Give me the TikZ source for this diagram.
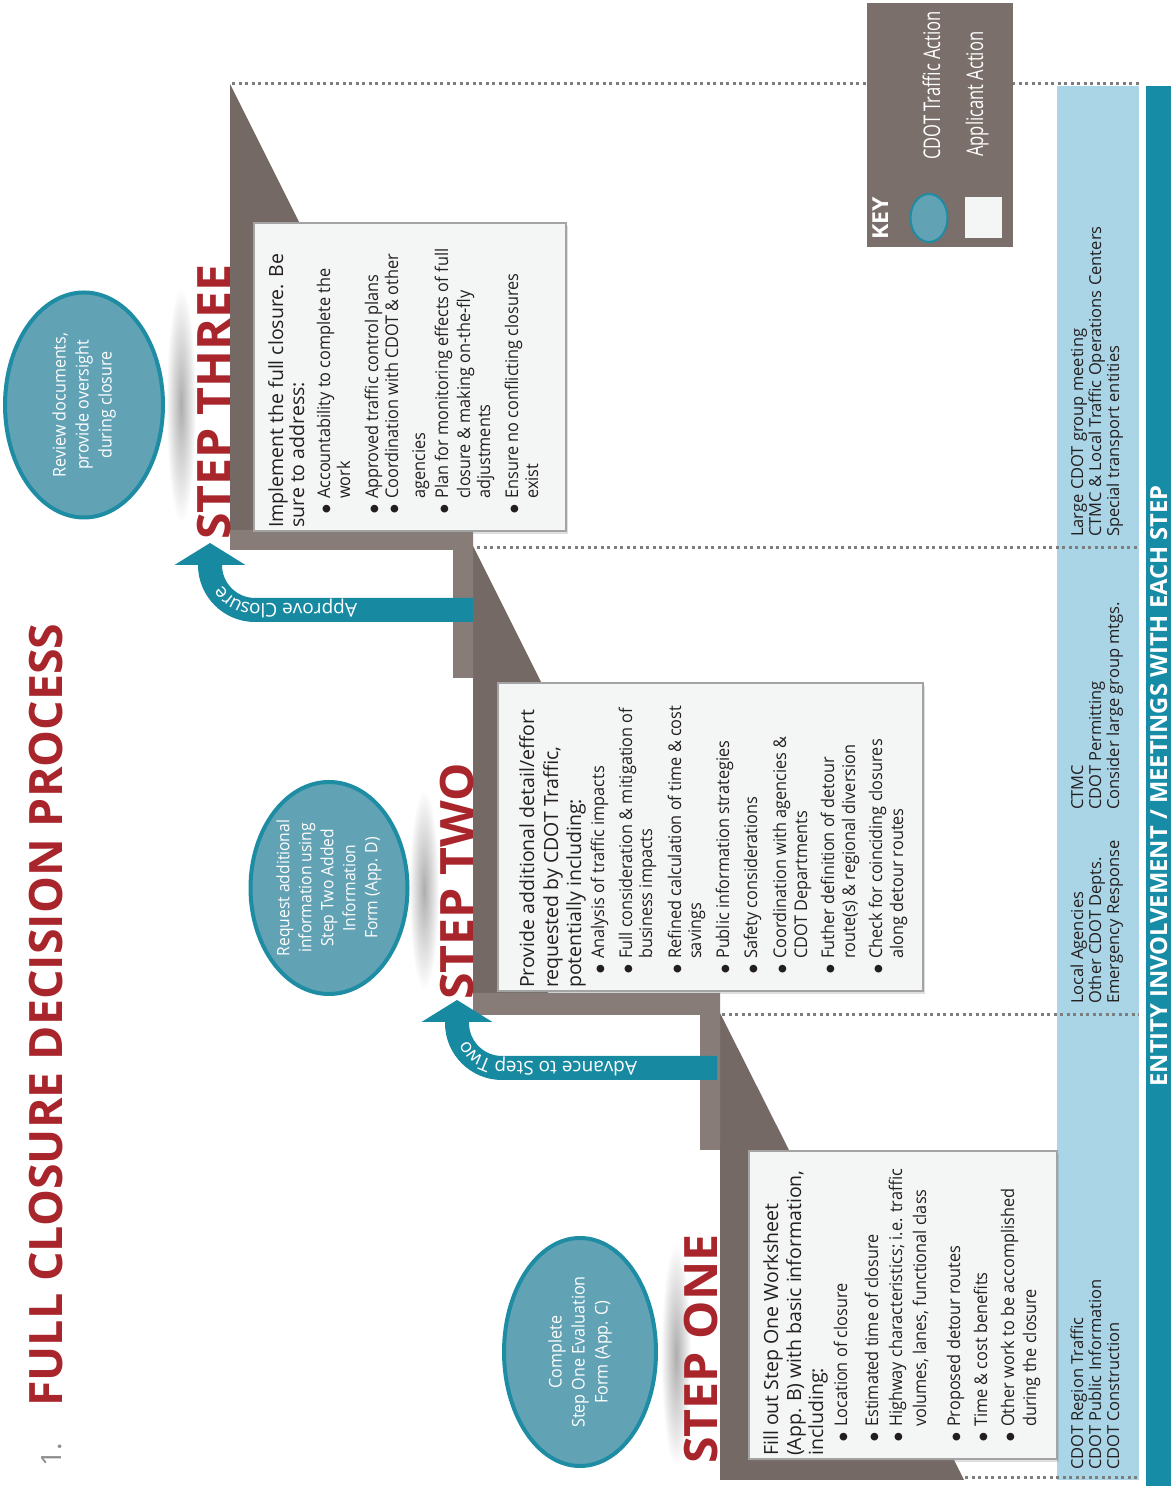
\documentclass[tikz,border=0pt]{standalone}
\usepackage{graphicx}
\usepackage{fontspec}
\setmainfont{Open Sans}
\newfontfamily\elf{Open Sans}[FakeStretch=0.92]
\newfontfamily\keyf{Open Sans}[FakeStretch=0.72]
\newfontfamily\stepf{Open Sans}[FakeStretch=1.05]
\newfontfamily\titf{Open Sans}[FakeStretch=1.01]
\newfontfamily\bulf{Open Sans}[FakeStretch=0.93]
\newfontfamily\hdf{Open Sans}
\newfontfamily\dejavu{DejaVu Sans}
\usetikzlibrary{shapes.geometric,arrows.meta,decorations.text,shadows}

\definecolor{redt}{HTML}{A8252B}
\definecolor{numgray}{HTML}{8C8C8C}
\definecolor{stair}{HTML}{877C78}
\definecolor{stairdk}{HTML}{746964}
\definecolor{elfill}{HTML}{62A2B5}
\definecolor{elbord}{HTML}{1E8CA3}
\definecolor{arrteal}{HTML}{178AA2}
\definecolor{ltblue}{HTML}{A9D5E6}
\definecolor{barteal}{HTML}{168CA6}
\definecolor{keybg}{HTML}{7A6F6B}
\definecolor{boxfill}{HTML}{F4F5F5}
\definecolor{boxline}{HTML}{A3A3A3}
\definecolor{dotc}{HTML}{7D7D7D}
\definecolor{txt}{HTML}{231F20}

\newcommand\hd{\hdf\fontsize{19.5}{22}\selectfont}
\newcommand\bul{\makebox[15pt][l]{\raisebox{1pt}{\dejavu\fontsize{10}{10}\selectfont ●}}}
\newcommand\arrf{\fontsize{19}{19}\selectfont}

\tikzset{
  boxst/.style={draw=boxline, line width=1.5pt, fill=boxfill, inner sep=0pt, anchor=north west,
    minimum width=308pt, drop shadow={shadow xshift=2pt, shadow yshift=-3pt, opacity=0.25}},
  btx/.style={anchor=base west, inner sep=0pt, text=txt, font=\bulf\fontsize{17.5}{20}\selectfont},
  ell/.style={ellipse, draw=elbord, line width=4pt, fill=elfill, text=white, align=center,
    inner sep=0pt, font=\elf\fontsize{17.5}{23}\selectfont},
  steplbl/.style={anchor=base west, inner sep=0pt, text=redt, font=\stepf\bfseries\fontsize{46}{46}\selectfont},
  dotl/.style={draw=dotc, line width=3pt, dash pattern=on 3pt off 3.5pt},
  bigarrow/.style={draw=arrteal, line width=24pt, -{Triangle[width=70pt,length=22pt]}},
  coltx/.style={anchor=base west, inner sep=0pt, text=txt, font=\fontsize{16.5}{18}\selectfont},
  shad/.style={inner color=black!32, outer color=white},
  keytx/.style={anchor=base west, inner sep=0pt, text=white, font=\keyf\fontsize{23}{23}\selectfont},
}

\begin{document}
\begin{tikzpicture}[x=1pt,y=1pt]
\useasboundingbox (0,0) rectangle (1171,1486);
\fill[white] (0,0) rectangle (1171,1486);
\begin{scope}[rotate=90, transform shape]
% ---- soft shadows under the ellipses
\shade[shad] (131,-676) ellipse [x radius=112, y radius=15];
\shade[shad] (596,-424) ellipse [x radius=100, y radius=15];
\shade[shad] (1081,-181) ellipse [x radius=118, y radius=15];

% ---- bottom bands
\fill[ltblue] (6,-1057) rectangle (1400,-1139);
\node[fill=barteal, anchor=north west, minimum width=1400pt, minimum height=25pt, inner sep=0pt,
  text=white, font=\titf\bfseries\fontsize{23.5}{23.5}\selectfont] (bar) at (0,-1146)
  {ENTITY INVOLVEMENT / MEETINGS WITH EACH STEP};

% ---- dotted separators
\draw[dotl] (1402,-232) -- (1402,-1139);
\draw[dotl] (938,-477) -- (938,-1139);
\draw[dotl] (471,-722) -- (471,-1139);
\draw[dotl] (8,-965) -- (8,-1139);

% ---- staircase
\fill[stairdk] (945,-230) -- (1402,-230) -- (1230,-316) -- (945,-316) -- cycle;
\fill[stairdk] (480,-473) -- (940,-473) -- (790,-548) -- (480,-548) -- cycle;
\fill[stairdk] (6,-720) -- (473,-720) -- (320,-797) -- (26,-797) -- (26,-954) -- (6,-964) -- cycle;
\fill[stair] (936,-230) -- (956,-230) -- (956,-473) -- (808,-473) -- (808,-453) -- (936,-453) -- cycle;
\fill[stair] (471,-473) -- (493,-473) -- (493,-720) -- (336,-720) -- (336,-700) -- (471,-700) -- cycle;

% ---- key
\node[fill=keybg, minimum width=244pt, minimum height=146pt, anchor=north west, inner sep=0pt] (key) at (1239,-867) {};
\node[anchor=base west, inner sep=0pt, text=white, font=\stepf\bfseries\fontsize{22}{22}\selectfont] (keyt) at (1246,-888) {KEY};
\node[ellipse, fill=elfill, draw=elbord, line width=2pt, minimum width=48pt, minimum height=37pt, inner sep=0pt] (keyel) at (1268,-929) {};
\node[keytx] (k1) at (1326,-940) {CDOT Traffic Action};
\node[fill=boxfill, minimum width=41pt, minimum height=37pt, inner sep=0pt] (ksq) at (1268.5,-983.5) {};
\node[keytx] (k2) at (1329,-983) {Applicant Action};

% ---- step boxes
\node[boxst, minimum height=308pt] (b1) at (26,-748) {};
\node[boxst, minimum height=425pt] (b2) at (494,-497) {};
\node[boxst, minimum height=312pt] (b3) at (954,-253) {};

\foreach \o/\v/\t [count=\i] in {
  4/778/{\hd Fill out Step One Worksheet},
  4/801/{\hd (App. B) with basic information,},
  4/823/{\hd including:},
  18/847/{\bul Location of closure},
  18/878/{\bul Estimated time of closure},
  18/902/{\bul Highway characteristics; i.e. traffic},
  33/926/{volumes, lanes, functional class},
  18/960/{\bul Proposed detour routes},
  18/987/{\bul Time \& cost benefits},
  18/1014/{\bul Other work to be accomplished},
  33/1036/{during the closure}}
  \node[btx] (b1t\i) at (26+\o,-\v) {\t};

\foreach \o/\v/\t [count=\i] in {
  4/534/{\hd Provide additional detail/effort},
  4/558/{\hd requested by CDOT Traffic,},
  4/581/{\hd potentially including:},
  18/604/{\bul Analysis of traffic impacts},
  18/632/{\bul Full consideration \& mitigation of},
  33/652/{business impacts},
  18/681/{\bul Refined calculation of time \& cost},
  33/701/{savings},
  18/729/{\bul Public information strategies},
  18/757/{\bul Safety considerations},
  18/786/{\bul Coordination with agencies \&},
  33/807/{CDOT Departments},
  18/834/{\bul Futher definition of detour},
  33/855/{route(s) \& regional diversion},
  18/882/{\bul Check for coinciding closures},
  33/903/{along detour routes}}
  \node[btx] (b2t\i) at (494+\o,-\v) {\t};

\foreach \o/\v/\t [count=\i] in {
  4/283/{\hd Implement the full closure. Be},
  4/304/{\hd sure to address:},
  18/330/{\bul Accountability to complete the},
  33/350/{work},
  18/378/{\bul Approved traffic control plans},
  18/398/{\bul Coordination with CDOT \& other},
  33/425/{agencies},
  18/448/{\bul Plan for monitoring effects of full},
  33/470/{closure \& making on-the-fly},
  33/490/{adjustments},
  18/518/{\bul Ensure no conflicting closures},
  33/538/{exist}}
  \node[btx] (b3t\i) at (954+\o,-\v) {\t};

% ---- step labels
\node[steplbl] (s1) at (22,-717) {STEP ONE};
\node[steplbl] (s2) at (486,-473) {STEP TWO};
\node[steplbl] (s3) at (946,-230) {STEP THREE};

% ---- CDOT action ellipses
\node[ell, minimum width=228pt, minimum height=152pt] (e1) at (134,-580) {Complete\\Step One Evaluation\\Form (App. C)};
\node[ell, minimum width=212pt, minimum height=157pt, font=\elf\fontsize{17}{22}\selectfont] (e2) at (598,-329)
  {Request additional\\information using\\Step Two Added\\Information\\Form (App. D)};
\node[ell, minimum width=225pt, minimum height=158pt] (e3) at (1081,-84) {Review documents,\\provide oversight\\during closure};

% ---- arrows
\coordinate (a1s) at (418,-717);
\coordinate (a1e) at (486,-457);
\draw[bigarrow] (a1s) -- (418,-502) arc[start angle=180, end angle=90, radius=45] -- (a1e);
\path[decorate, decoration={text along path, text color=white, text={|\arrf|Advance to Step Two},
  text align={left indent=80pt}, raise=-6.5pt}] (a1s) -- (418,-502) arc[start angle=180, end angle=90, radius=45] -- (a1e);

\coordinate (a2s) at (876,-473);
\coordinate (a2e) at (943,-210);
\draw[bigarrow] (a2s) -- (876,-255) arc[start angle=180, end angle=90, radius=45] -- (a2e);
\path[decorate, decoration={text along path, text color=white, text={|\arrf|Approve Closure},
  text align={left indent=116pt}, raise=-6.5pt}] (a2s) -- (876,-255) arc[start angle=180, end angle=90, radius=45] -- (a2e);

% ---- title
\node[anchor=base west, inner sep=0pt, text=numgray, font=\titf\fontsize{28}{28}\selectfont] (num) at (19,-61) {1.};
\node[anchor=base west, inner sep=0pt, text=redt, font=\titf\bfseries\fontsize{46}{46}\selectfont] (title) at (79,-62) {FULL CLOSURE DECISION PROCESS};

% ---- entity columns
\foreach \u/\v/\t [count=\i] in {
  16/1083/{CDOT Region Traffic}, 16/1101/{CDOT Public Information}, 16/1119/{CDOT Construction},
  482/1083/{Local Agencies}, 482/1101/{Other CDOT Depts.}, 482/1119/{Emergency Response},
  676/1083/{CTMC}, 676/1101/{CDOT Permitting}, 676/1119/{Consider large group mtgs.},
  949/1083/{Large CDOT group meeting}, 949/1101/{CTMC \& Local Traffic Operations Centers}, 949/1119/{Special transport entities}}
  \node[coltx] (c\i) at (\u,-\v) {\t};
\end{scope}
\end{tikzpicture}
\end{document}
